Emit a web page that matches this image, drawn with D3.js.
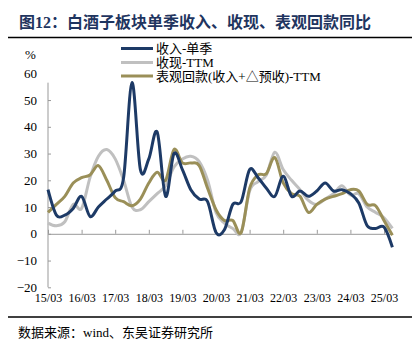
<!DOCTYPE html>
<html>
<head>
<meta charset="utf-8">
<script src="https://cdn.jsdelivr.net/npm/d3@7"></script>
<style>
  body { margin: 0; background: #fff; }
  svg { display: block; }
  text { font-family: "Liberation Serif", "Noto Sans CJK SC", serif; }
</style>
</head>
<body>
<div id="chart"></div>
<script>
// data (quarterly, %)
const quarters = [
  "15/03","15/06","15/09","15/12","16/03","16/06","16/09","16/12",
  "17/03","17/06","17/09","17/12","18/03","18/06","18/09","18/12",
  "19/03","19/06","19/09","19/12","20/03","20/06","20/09","20/12",
  "21/03","21/06","21/09","21/12","22/03","22/06","22/09","22/12",
  "23/03","23/06","23/09","23/12","24/03","24/06","24/09","24/12",
  "25/03","25/06"]
const tickLabels = ["15/03","16/03","17/03","18/03","19/03","20/03","21/03","22/03","23/03","24/03","25/03"]
const yTicks = [-20, -10, 0, 10, 20, 30, 40, 50, 60]

const revenueQ = [
  16.5, 7, 7, 9.5, 14, 6.5, 10, 13, 16, 21,
  56.5, 24, 28, 38, 14, 30, 24, 16.5, 13, 12,
  0.5, 1.5, 11, 12, 24, 21, 17, 14, 21.5, 14,
  16, 14, 16, 19, 16, 16.5, 15, 11.5, 3, 2, 2.5, -5]
const cashTTM = [
  4, 3, 4.5, 11, 9.5, 21, 29, 31.5, 28, 20,
  10, 9, 12, 15, 18, 25, 28, 29, 27, 20,
  8, 4, 2, 0.5, 16, 19.5, 22, 30.5, 24, 20,
  16.5, 12.5, 11, 13, 15, 18, 14.5, 15, 10, 8, 6, 2]
const apparentTTM = [
  8, 11, 14, 19, 21, 22, 25.5, 20, 13.5, 12,
  10.5, 13, 19, 23, 20, 31.5, 26.5, 26.5, 25.5, 17,
  9, 5, 5, 0.5, 17, 22, 22.5, 28.5, 19, 15,
  14, 8, 11, 13, 14, 15, 16.5, 16, 11, 10.5, 5, -0.5]

const seriesNames = ["收入-单季", "收现-TTM", "表观回款(收入+△预收)-TTM"]
const seriesColors = ["#1d3a66", "#c0c0c0", "#9a8f58"]
const seriesData = [revenueQ, cashTTM, apparentTTM]

const width = 419
const height = 350

const svg = d3.select("#chart")
  .append("svg")
  .attr("width", width)
  .attr("height", height)

// title + rules
svg.append("text")
  .attr("x", 19)
  .attr("y", 28)
  .attr("font-size", 16)
  .attr("font-weight", "bold")
  .attr("fill", "#1f3560")
  .text("图12：白酒子板块单季收入、收现、表观回款同比")

svg.append("line")
  .attr("x1", 8).attr("x2", 412)
  .attr("y1", 37.5).attr("y2", 37.5)
  .attr("stroke", "#000")
  .attr("stroke-width", 1.5)

svg.append("line")
  .attr("x1", 8).attr("x2", 412)
  .attr("y1", 317).attr("y2", 317)
  .attr("stroke", "#000")
  .attr("stroke-width", 1.5)

svg.append("text")
  .attr("x", 18)
  .attr("y", 337)
  .attr("font-size", 13)
  .attr("fill", "#000")
  .text("数据来源：wind、东吴证券研究所")

// scales
const x = d3.scalePoint()
  .domain(quarters)
  .range([48, 392.4])

const y = d3.scaleLinear()
  .domain([-20, 60])
  .range([287.3, 73.3])

// y axis (ticks point inward)
const yAxis = svg.append("g")
  .attr("transform", "translate(48,0)")
  .call(d3.axisLeft(y).tickValues(yTicks).tickSizeInner(-3).tickSizeOuter(0).tickPadding(11))

yAxis.select(".domain")
  .attr("d", `M0,${y(56.5)}V${y(-20)}`)
  .attr("stroke", "#999")
yAxis.selectAll(".tick line")
  .attr("stroke", "#999")
  .filter(d => d === 60).remove()
yAxis.selectAll(".tick text")
  .attr("font-size", 13)
  .attr("fill", "#000")
  .attr("font-family", "Liberation Serif")

svg.append("text")
  .attr("x", 25)
  .attr("y", 59)
  .attr("font-size", 13)
  .text("%")

// x axis at zero line, ticks upward
const xAxis = svg.append("g")
  .attr("transform", `translate(0,${y(0)})`)
  .call(d3.axisBottom(x).tickValues(tickLabels).tickSizeInner(-4).tickSizeOuter(0).tickFormat(""))
xAxis.select(".domain").attr("stroke", "#999")
xAxis.selectAll(".tick line").attr("stroke", "#999")

// x labels along bottom
const xLabels = svg.append("g")
  .attr("transform", `translate(0,${y(-20) + 6})`)
  .call(d3.axisBottom(x).tickValues(tickLabels).tickSize(0).tickPadding(0))
xLabels.select(".domain").remove()
xLabels.selectAll(".tick text")
  .attr("font-size", 12)
  .attr("fill", "#000")
  .attr("font-family", "Liberation Serif")

// lines
const line = d3.line()
  .x((d, i) => x(quarters[i]))
  .y(d => y(d))
  .curve(d3.curveCatmullRom.alpha(0))

// draw gray first, then olive, navy on top
const drawOrder = [1, 2, 0]
svg.selectAll("path.series")
  .data(drawOrder)
  .join("path")
  .attr("class", "series")
  .attr("d", k => line(seriesData[k]))
  .attr("fill", "none")
  .attr("stroke", k => seriesColors[k])
  .attr("stroke-width", 3)
  .attr("stroke-linejoin", "round")

// legend
const legendY = [48.5, 62.5, 76]
const legend = svg.selectAll("g.legend")
  .data(seriesNames)
  .join("g")
  .attr("class", "legend")
  .attr("transform", (d, i) => `translate(121,${legendY[i]})`)

legend.append("line")
  .attr("x1", 0).attr("x2", 32)
  .attr("stroke", (d, i) => seriesColors[i])
  .attr("stroke-width", 3)

legend.append("text")
  .attr("x", 35)
  .attr("y", 4.5)
  .attr("font-size", 13)
  .attr("fill", "#000")
  .text(d => d)
</script>
</body>
</html>
